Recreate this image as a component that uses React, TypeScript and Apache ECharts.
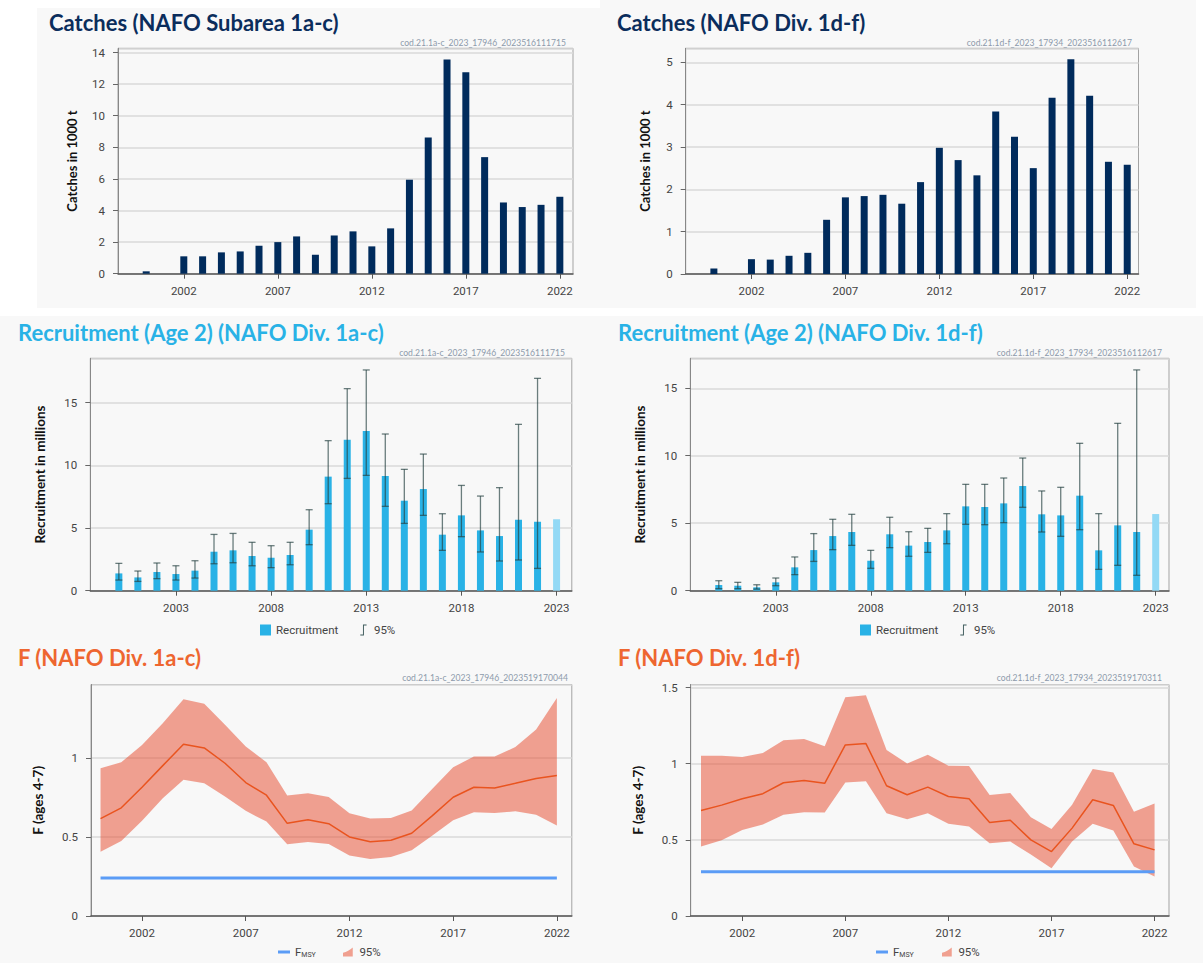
import React, { useEffect, useRef } from "react";
import * as echarts from "echarts";

// ---------- DATA ----------
const catchYears = [2000, 2001, 2002, 2003, 2004, 2005, 2006, 2007, 2008, 2009, 2010, 2011, 2012, 2013, 2014, 2015, 2016, 2017, 2018, 2019, 2020, 2021, 2022];
const catches1ac = [0.15, 0, 1.1, 1.1, 1.35, 1.41, 1.77, 2.0, 2.36, 1.2, 2.42, 2.68, 1.73, 2.87, 5.95, 8.62, 13.56, 12.76, 7.38, 4.51, 4.22, 4.36, 4.87];
const catches1df = [0.13, 0, 0.35, 0.34, 0.43, 0.5, 1.28, 1.81, 1.84, 1.87, 1.66, 2.17, 2.98, 2.69, 2.33, 3.84, 3.24, 2.5, 4.16, 5.07, 4.21, 2.65, 2.58];

const recYears = [2000, 2001, 2002, 2003, 2004, 2005, 2006, 2007, 2008, 2009, 2010, 2011, 2012, 2013, 2014, 2015, 2016, 2017, 2018, 2019, 2020, 2021, 2022, 2023];
const ciYears = [2000, 2001, 2002, 2003, 2004, 2005, 2006, 2007, 2008, 2009, 2010, 2011, 2012, 2013, 2014, 2015, 2016, 2017, 2018, 2019, 2020, 2021, 2022];
const rec1ac = [1.38, 1.06, 1.49, 1.33, 1.6, 3.11, 3.22, 2.77, 2.63, 2.85, 4.87, 9.1, 12.05, 12.74, 9.15, 7.18, 8.11, 4.47, 6.01, 4.81, 4.36, 5.66, 5.5, 5.7];
const rec1acLow = [0.85, 0.74, 0.96, 0.85, 1.01, 2.15, 2.23, 1.99, 1.84, 2.07, 3.67, 6.94, 8.96, 9.2, 6.73, 5.37, 6.01, 3.22, 4.31, 3.09, 2.37, 2.45, 1.78];
const rec1acHigh = [2.18, 1.57, 2.21, 1.99, 2.39, 4.49, 4.57, 3.86, 3.59, 3.86, 6.46, 11.97, 16.12, 17.61, 12.5, 9.68, 10.9, 6.14, 8.4, 7.55, 8.22, 13.27, 16.94];
const rec1df = [0.42, 0.37, 0.25, 0.62, 1.73, 3.01, 4.05, 4.35, 2.22, 4.18, 3.34, 3.61, 4.47, 6.25, 6.2, 6.47, 7.76, 5.66, 5.58, 7.04, 2.99, 4.84, 4.35, 5.68];
const rec1dfLow = [0.15, 0.15, 0.12, 0.37, 1.19, 2.17, 3.04, 3.36, 1.66, 3.19, 2.55, 2.84, 3.48, 4.92, 4.89, 5.04, 6.18, 4.35, 4.03, 4.52, 1.58, 1.88, 1.14];
const rec1dfHigh = [0.74, 0.62, 0.44, 0.94, 2.5, 4.23, 5.29, 5.66, 2.99, 5.44, 4.37, 4.62, 5.71, 7.88, 7.88, 8.35, 9.83, 7.39, 7.66, 10.92, 5.71, 12.4, 16.36];
const predictedYear = 2023;

const fYears = [2000, 2001, 2002, 2003, 2004, 2005, 2006, 2007, 2008, 2009, 2010, 2011, 2012, 2013, 2014, 2015, 2016, 2017, 2018, 2019, 2020, 2021, 2022];
const f1ac = [0.616, 0.684, 0.814, 0.951, 1.086, 1.063, 0.966, 0.844, 0.764, 0.586, 0.608, 0.584, 0.5, 0.47, 0.479, 0.523, 0.635, 0.751, 0.814, 0.81, 0.839, 0.87, 0.889];
const f1acHigh = [0.935, 0.973, 1.082, 1.219, 1.371, 1.342, 1.209, 1.072, 0.973, 0.762, 0.776, 0.753, 0.65, 0.616, 0.62, 0.667, 0.804, 0.941, 1.008, 1.008, 1.069, 1.18, 1.379];
const f1acLow = [0.407, 0.475, 0.603, 0.745, 0.861, 0.84, 0.755, 0.665, 0.597, 0.454, 0.468, 0.456, 0.382, 0.361, 0.373, 0.416, 0.509, 0.606, 0.656, 0.652, 0.662, 0.641, 0.572];
const f1df = [0.693, 0.728, 0.77, 0.803, 0.875, 0.89, 0.871, 1.123, 1.132, 0.855, 0.796, 0.846, 0.785, 0.77, 0.614, 0.629, 0.5, 0.423, 0.577, 0.763, 0.726, 0.474, 0.434];
const f1dfHigh = [1.053, 1.053, 1.044, 1.07, 1.154, 1.162, 1.114, 1.436, 1.45, 1.09, 1.002, 1.059, 0.987, 0.985, 0.794, 0.807, 0.649, 0.572, 0.73, 0.965, 0.943, 0.684, 0.739];
const f1dfLow = [0.456, 0.498, 0.564, 0.601, 0.664, 0.682, 0.68, 0.877, 0.884, 0.675, 0.636, 0.675, 0.605, 0.588, 0.478, 0.489, 0.404, 0.314, 0.489, 0.605, 0.561, 0.325, 0.259];
const fmsy1ac = 0.24;
const fmsy1df = 0.29;

const catchTicks = [2002, 2007, 2012, 2017, 2022];
const recTicks = [2003, 2008, 2013, 2018, 2023];
const fTicks = [2002, 2007, 2012, 2017, 2022];

const titles = [
  "Catches (NAFO Subarea 1a-c)",
  "Catches (NAFO Div. 1d-f)",
  "Recruitment (Age 2) (NAFO Div. 1a-c)",
  "Recruitment (Age 2) (NAFO Div. 1d-f)",
  "F (NAFO Div. 1a-c)",
  "F (NAFO Div. 1d-f)",
];
const stamps = [
  "cod.21.1a-c_2023_17946_2023516111715",
  "cod.21.1d-f_2023_17934_2023516112617",
  "cod.21.1a-c_2023_17946_2023516111715",
  "cod.21.1d-f_2023_17934_2023516112617",
  "cod.21.1a-c_2023_17946_2023519170044",
  "cod.21.1d-f_2023_17934_2023519170311",
];

// ---------- STYLE / LAYOUT ----------
const FONT = 'Roboto, "Noto Sans", sans-serif';
const TFONT = 'Lato, "Noto Sans", sans-serif';
const NAVY = "#0b2d5c";
const SKY = "#29b2e6";
const SKY_LIGHT = "#93d9f5";
const ORANGE = "#ee6630";
const F_LINE = "#e9541f";
const BAND_FILL = "rgba(232,85,58,0.55)";
const FMSY_BLUE = "#5b9cf6";
const ERR = "rgba(38,66,66,0.68)";

const grids = [
  { left: 118, top: 48.3, width: 455, height: 225.4 },
  { left: 685.7, top: 48.3, width: 452.8, height: 225.7 },
  { left: 90.3, top: 358.3, width: 481.5, height: 232.4 },
  { left: 690.3, top: 358.3, width: 478.7, height: 232.4 },
  { left: 91, top: 684.5, width: 480.8, height: 231.5 },
  { left: 690.7, top: 684.5, width: 478.3, height: 231.5 },
];
const titlePos = [
  [49, 11], [617, 11], [18, 321], [618, 321], [18, 646], [618, 646],
];
const titleColors = [NAVY, NAVY, SKY, SKY, ORANGE, ORANGE];
const stampPos = [
  [566, 38], [1132, 38], [565, 348], [1162, 348], [568, 673], [1162, 673],
];
const panels = [
  { x: 37, y: 8, w: 563, h: 300 },
  { x: 600, y: 0, w: 596, h: 308 },
  { x: 0, y: 316, w: 600, h: 324 },
  { x: 600, y: 316, w: 603, h: 324 },
  { x: 0, y: 640, w: 600, h: 323 },
  { x: 600, y: 640, w: 603, h: 323 },
];

const errIcon = "path://M4.4,0 H5.6 V14 H4.4 Z M5.6,0 H9 V1.2 H5.6 Z M1,12.8 H4.4 V14 H1 Z";
const bandIcon = "path://M0,12 L0,7 C5,6 9,3 13,0 L13,12 Z";

function xAx(gridIndex: number, min: number, max: number, ticks: number[]) {
  return {
    type: "value",
    gridIndex,
    min,
    max,
    axisLine: { show: true, onZero: false, lineStyle: { color: "#555", width: 1.5 } },
    axisTick: { show: true, customValues: ticks, length: 5, lineStyle: { color: "#555" } },
    axisLabel: {
      customValues: ticks,
      margin: 11,
      fontFamily: FONT,
      fontSize: 11.5,
      color: "#444",
      formatter: (v: number) => String(v),
    },
    splitLine: { show: false },
  };
}

function yAx(gridIndex: number, max: number, interval: number, name: string, nameGap: number, nameSize: number) {
  return {
    type: "value",
    gridIndex,
    min: 0,
    max,
    interval,
    name,
    nameLocation: "middle",
    nameGap,
    nameRotate: 90,
    nameTextStyle: { fontFamily: TFONT, fontWeight: "bold", fontSize: nameSize, color: "#111" },
    axisLine: { show: true, lineStyle: { color: "#888", width: 1 } },
    axisTick: { show: true, length: 5, lineStyle: { color: "#666" } },
    axisLabel: {
      showMaxLabel: false,
      margin: 13,
      fontFamily: FONT,
      fontSize: 11.5,
      color: "#444",
      formatter: (v: number) => String(v),
    },
    splitLine: { show: true, lineStyle: { color: "#dadada", width: 1.5 } },
  };
}

function errorRender(params: any, api: any) {
  const x = api.value(0);
  const lo = api.coord([x, api.value(1)]);
  const hi = api.coord([x, api.value(2)]);
  const hw = 3.5;
  const style = { stroke: ERR, lineWidth: 1.3 };
  return {
    type: "group",
    children: [
      { type: "line", shape: { x1: lo[0], y1: lo[1], x2: hi[0], y2: hi[1] }, style },
      { type: "line", shape: { x1: hi[0] - hw, y1: hi[1], x2: hi[0] + hw, y2: hi[1] }, style },
      { type: "line", shape: { x1: lo[0] - hw, y1: lo[1], x2: lo[0] + hw, y2: lo[1] }, style },
    ],
  };
}

function bandRender(params: any, api: any) {
  if (params.dataIndexInside !== 0) return null;
  const n = params.dataInsideLength;
  const up: number[][] = [];
  const lo: number[][] = [];
  for (let i = 0; i < n; i++) {
    const x = api.value(0, i);
    up.push(api.coord([x, api.value(2, i)]));
    lo.push(api.coord([x, api.value(1, i)]));
  }
  return {
    type: "polygon",
    shape: { points: up.concat(lo.reverse()) },
    style: { fill: BAND_FILL },
  };
}

function recSeries(idx: number, vals: number[], low: number[], high: number[]) {
  return [
    {
      name: "Recruitment",
      type: "bar",
      xAxisIndex: idx,
      yAxisIndex: idx,
      barWidth: 7,
      itemStyle: { color: SKY },
      data: recYears.map((y, i) => ({
        value: [y, vals[i]],
        itemStyle: y === predictedYear ? { color: SKY_LIGHT } : undefined,
      })),
    },
    {
      name: "95%",
      type: "custom",
      xAxisIndex: idx,
      yAxisIndex: idx,
      renderItem: errorRender,
      encode: { x: 0, y: [1, 2] },
      itemStyle: { color: "#3d5a5b" },
      data: ciYears.map((y, i) => [y, low[i], high[i]]),
      z: 3,
    },
  ];
}

function fSeries(idx: number, vals: number[], low: number[], high: number[], fmsy: number) {
  return [
    {
      name: "95%",
      type: "custom",
      xAxisIndex: idx,
      yAxisIndex: idx,
      renderItem: bandRender,
      encode: { x: 0, y: [1, 2] },
      itemStyle: { color: "#f0a090" },
      data: fYears.map((y, i) => [y, low[i], high[i]]),
      z: 2,
    },
    {
      name: "F",
      type: "line",
      xAxisIndex: idx,
      yAxisIndex: idx,
      symbol: "none",
      lineStyle: { color: F_LINE, width: 1.5 },
      data: fYears.map((y, i) => [y, vals[i]]),
      z: 4,
    },
    {
      name: "FMSY",
      type: "line",
      xAxisIndex: idx,
      yAxisIndex: idx,
      symbol: "none",
      itemStyle: { color: FMSY_BLUE },
      lineStyle: { color: FMSY_BLUE, width: 3 },
      data: [
        [fYears[0], fmsy],
        [fYears[fYears.length - 1], fmsy],
      ],
      z: 3,
    },
  ];
}

const legendText = { fontFamily: FONT, fontSize: 11.5, color: "#444" };

function recLegend(left: number) {
  return {
    left,
    top: 624,
    padding: 0,
    itemWidth: 11,
    itemHeight: 11,
    itemGap: 22,
    selectedMode: false,
    textStyle: legendText,
    data: [
      { name: "Recruitment", icon: "rect" },
      { name: "95%", icon: errIcon, itemStyle: { color: "#3d5a5b" } },
    ],
  };
}

function fmsyLegend(left: number) {
  return {
    left,
    top: 946,
    padding: 0,
    itemWidth: 12,
    itemHeight: 3,
    selectedMode: false,
    textStyle: {
      ...legendText,
      rich: {
        a: { fontFamily: FONT, fontSize: 11.5, color: "#444" },
        s: { fontFamily: FONT, fontSize: 7, color: "#444", padding: [6, 0, 0, 0] },
      },
    },
    formatter: () => "{a|F}{s|MSY}",
    data: [{ name: "FMSY", icon: "rect", itemStyle: { color: FMSY_BLUE } }],
  };
}

function bandLegend(left: number) {
  return {
    left,
    top: 946,
    padding: 0,
    itemWidth: 13,
    itemHeight: 9,
    selectedMode: false,
    textStyle: legendText,
    data: [{ name: "95%", icon: bandIcon, itemStyle: { color: "#f0a090" } }],
  };
}

function buildOption() {
  return {
    animation: false,
    backgroundColor: "#ffffff",
    graphic: panels.map((p) => ({
      type: "rect",
      shape: { x: p.x, y: p.y, width: p.w, height: p.h },
      style: { fill: "#f8f8f8" },
      z: -100,
      silent: true,
    })),
    title: [
      ...titles.map((t, i) => ({
        text: t,
        left: titlePos[i][0],
        top: titlePos[i][1],
        padding: 0,
        textStyle: { fontFamily: TFONT, fontWeight: "bold", fontSize: 22, color: titleColors[i] },
      })),
      ...stamps.map((t, i) => ({
        text: t,
        left: stampPos[i][0],
        top: stampPos[i][1],
        textAlign: "right",
        padding: 0,
        textStyle: { fontFamily: TFONT, fontWeight: "normal", fontSize: 8.6, color: "#8d9aab" },
      })),
    ],
    grid: grids.map((g) => ({
      ...g,
      show: true,
      borderColor: "#a3a3a3",
      borderWidth: 1,
      backgroundColor: "transparent",
      containLabel: false,
    })),
    xAxis: [
      xAx(0, 1998.5, 2022.7, catchTicks),
      xAx(1, 1998.5, 2022.6, catchTicks),
      xAx(2, 1998.5, 2023.8, recTicks),
      xAx(3, 1998.5, 2023.7, recTicks),
      xAx(4, 1999.54, 2022.72, fTicks),
      xAx(5, 1999.5, 2022.7, fTicks),
    ],
    yAxis: [
      yAx(0, 14.27, 2, "Catches in 1000 t", 40, 13),
      yAx(1, 5.33, 1, "Catches in 1000 t", 34, 13),
      yAx(2, 18.54, 5, "Recruitment in millions", 43.5, 13.5),
      yAx(3, 17.22, 5, "Recruitment in millions", 43.4, 13.5),
      yAx(4, 1.464, 0.5, "F (ages 4-7)", 46, 13.5),
      yAx(5, 1.52, 0.5, "F (ages 4-7)", 45.6, 13.5),
    ],
    legend: [
      recLegend(260),
      recLegend(860),
      fmsyLegend(278),
      bandLegend(343),
      fmsyLegend(876),
      bandLegend(942),
    ],
    series: [
      {
        name: "Catches 1a-c",
        type: "bar",
        xAxisIndex: 0,
        yAxisIndex: 0,
        barWidth: 7,
        itemStyle: { color: "#002b5c" },
        data: catchYears.map((y, i) => [y, catches1ac[i]]),
      },
      {
        name: "Catches 1d-f",
        type: "bar",
        xAxisIndex: 1,
        yAxisIndex: 1,
        barWidth: 7,
        itemStyle: { color: "#002b5c" },
        data: catchYears.map((y, i) => [y, catches1df[i]]),
      },
      ...recSeries(2, rec1ac, rec1acLow, rec1acHigh),
      ...recSeries(3, rec1df, rec1dfLow, rec1dfHigh),
      ...fSeries(4, f1ac, f1acLow, f1acHigh, fmsy1ac),
      ...fSeries(5, f1df, f1dfLow, f1dfHigh, fmsy1df),
    ],
  };
}

export default function App() {
  const ref = useRef<HTMLDivElement>(null);
  useEffect(() => {
    if (!ref.current) return;
    const chart = echarts.init(ref.current, undefined, { renderer: "svg" });
    chart.setOption(buildOption() as any);
    return () => chart.dispose();
  }, []);
  return (
    <div
      ref={ref}
      style={{ position: "absolute", left: 0, top: 0, width: 1203, height: 963 }}
    />
  );
}
